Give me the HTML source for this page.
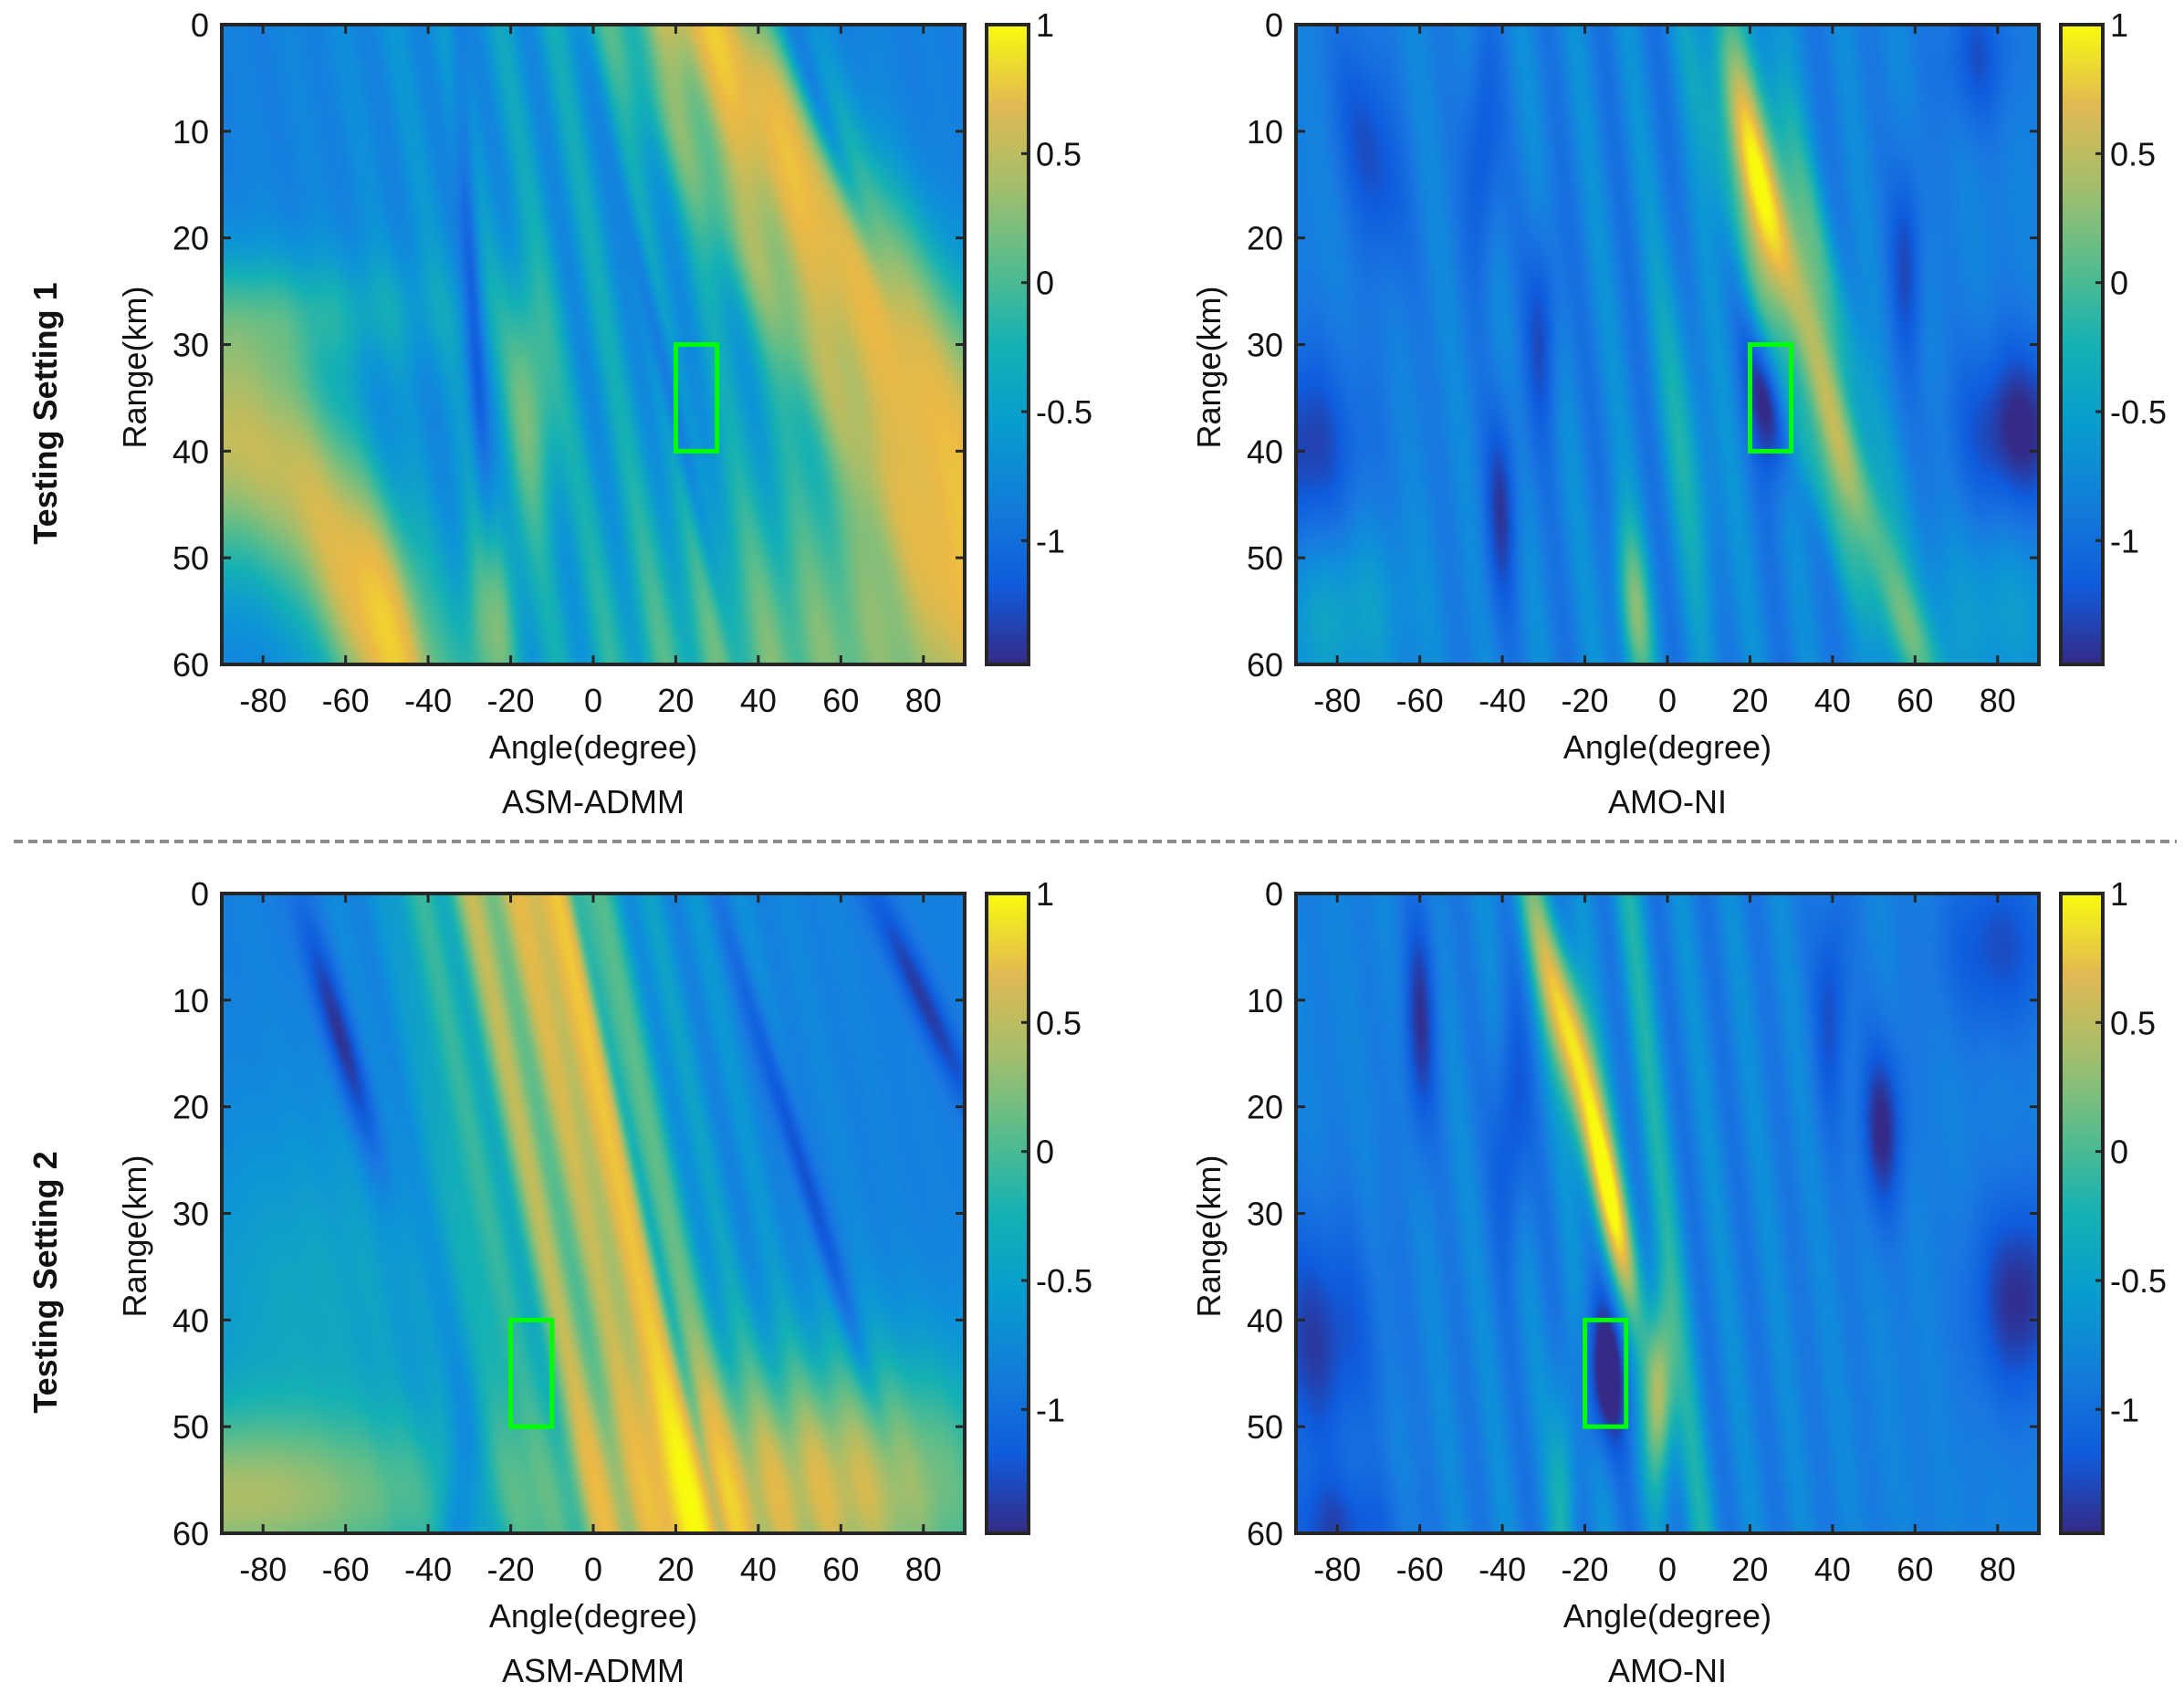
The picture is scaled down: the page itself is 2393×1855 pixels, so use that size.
<!DOCTYPE html>
<html><head><meta charset="utf-8">
<style>
html,body{margin:0;padding:0;background:#fff;}
#wrap{position:relative;width:2393px;height:1855px;overflow:hidden;background:#fff;}
canvas{position:absolute;}
svg{position:absolute;left:0;top:0;}
text{font-family:"Liberation Sans",sans-serif;fill:#111;}
</style></head><body>
<div id="wrap">
<canvas id="c0" width="270" height="234" style="left:243px;top:27px;width:814px;height:701px"></canvas>
<canvas id="c1" width="270" height="234" style="left:1420px;top:27px;width:814px;height:701px"></canvas>
<canvas id="c2" width="270" height="234" style="left:243px;top:979px;width:814px;height:701px"></canvas>
<canvas id="c3" width="270" height="234" style="left:1420px;top:979px;width:814px;height:701px"></canvas>
<svg id="ov" width="2393" height="1855" xmlns="http://www.w3.org/2000/svg">
<defs>
<linearGradient id="parula" x1="0" y1="1" x2="0" y2="0">
<stop offset="0" stop-color="rgb(53,42,135)"/>
<stop offset="0.125" stop-color="rgb(15,92,221)"/>
<stop offset="0.25" stop-color="rgb(18,125,216)"/>
<stop offset="0.375" stop-color="rgb(7,156,207)"/>
<stop offset="0.5" stop-color="rgb(21,177,180)"/>
<stop offset="0.625" stop-color="rgb(89,189,140)"/>
<stop offset="0.75" stop-color="rgb(165,190,107)"/>
<stop offset="0.875" stop-color="rgb(225,185,82)"/>
<stop offset="1" stop-color="rgb(249,251,14)"/>
</linearGradient>
</defs>
<line x1="15" y1="922" x2="2385" y2="922" stroke="#8c8c8c" stroke-width="4" stroke-dasharray="10,6"/>
<text transform="translate(62,453) rotate(-90)" text-anchor="middle" font-size="36" font-weight="bold">Testing Setting 1</text>
<text transform="translate(62,1405) rotate(-90)" text-anchor="middle" font-size="36" font-weight="bold">Testing Setting 2</text>
</svg>
</div>
<script>
const P=[[0,53,42,135],[.125,15,92,221],[.25,25,120,225],[.375,12,150,215],[.5,21,177,180],[.625,89,189,140],[.75,165,190,107],[.875,235,185,70],[1,249,251,14]];
function cmap(v){let t=(v+1.48)/2.48;t=Math.max(0,Math.min(1,t));for(let i=1;i<P.length;i++){if(t<=P[i][0]){const a=P[i-1],b=P[i],f=(t-a[0])/(b[0]-a[0]);return [a[1]+f*(b[1]-a[1]),a[2]+f*(b[2]-a[2]),a[3]+f*(b[3]-a[3])];}}return [249,251,14];}
const G=x=>Math.exp(-x*x/2);
function blob(u,r,cu,cr,su,sr,a,slant){slant=slant||0;return a*G((u-cu-slant*(r-cr))/su)*G((r-cr)/sr);}
function rv(u,c,s,a){return a*G((u-c)/s);}
function soft(v){return v>0.6?0.6+(v-0.6)*0.5:v;}
const F=[
function(u,r){let v=-0.8;
 const wm=G((u-(-5+0.3*r))/38);
 v+=0.22*Math.sin(2*Math.PI*(u-0.45*r)/13)*wm+0.3*wm;
 const c=28+1.5*r, s=11+0.22*r;
 v+=1.45*G((u-c)/s);
 v+=0.35*G((u-(c-24))/6)*G((r-20)/25);
 const r0=39+0.012*(u+90)*(u+90);
 v+=1.3*G((r-r0)/9);
 v+=0.45*G((r-27)/4)*G((u+70)/25);
 v+=blob(u,r,60,60,35,12,0.75);
 v+=blob(u,r,-15,35,4,8,0.8,0.2);
 v+=blob(u,r,-25,57,5,8,0.8);
 v+=blob(u,r,-50,55,10,8,0.4);
 v+=rv(u,-33+0.15*r,1.6,-0.5)*G((r-25)/20);
 v+=rv(u,10+0.6*(r-20),1.6,-0.55)*G((r-35)/14);
 v+=rv(u,48+0.9*r,2.5,-0.7)*G((r-11)/8);
 return soft(v);},
function(u,r){let v=-0.76;
 v+=0.2*Math.sin(2*Math.PI*(u-0.3*r)/13)*G(u/45);
 const c=14+0.55*r+0.004*r*r;
 const amp=1.7*G((r-16)/11)+1.0*G((r-42)/10)+0.5*G((r-58)/5);
 v+=amp*G((u-c)/4.5);
 v+=0.6*G((u-(c-9))/3)*G((r-30)/18);
 v+=0.5*G((u-(c+10))/3)*G((r-20)/15);
 v+=blob(u,r,-8,55,3,6,0.9,0.2);
 v+=blob(u,r,5,40,4,12,0.45,0.3);
 v+=blob(u,r,25,35,3.5,5,-0.9,0.3);
 v+=blob(u,r,-72,12,5,8,-0.55,0.4);
 v+=blob(u,r,-88,40,10,7,-0.6);
 v+=blob(u,r,85,38,10,6,-0.75);
 v+=blob(u,r,-40,45,3,7,-0.55);
 v+=blob(u,r,-45,12,3,8,-0.5);
 v+=blob(u,r,-30,28,3,7,-0.5);
 v+=blob(u,r,58,22,3,7,-0.5);
 v+=blob(u,r,75,3,6,5,-0.45);
 v+=blob(u,r,-80,55,12,6,0.4);
 v+=blob(u,r,80,55,12,6,0.3);
 return v;},
function(u,r){let v=-0.78;
 const wm=G((u-(-10+0.5*r))/32);
 v+=0.22*Math.sin(2*Math.PI*(u-0.55*r)/11)*wm+0.25*wm;
 v+=(1.35-0.004*r)*G((u-(-12+0.6*r))/9);
 v+=0.75*G((u-(-30+0.55*r))/5);
 v+=0.45*G((u-(-44+0.5*r))/4);
 v+=1.1*G((r-57)/6)*G((u+90)/45);
 v+=blob(u,r,60,56,32,9,1.25);
 v+=blob(u,r,-70,38,25,12,0.4);
 v+=rv(u,30+0.8*r,2,-0.6)*G((r-25)/14);
 v+=rv(u,68+1.2*r,3,-0.6)*G((r-10)/9);
 v+=rv(u,-72+0.8*r,3,-0.7)*G((r-14)/9);
 v+=blob(u,r,-32,57,3,6,-0.5);
 v+=rv(u,-5+0.6*r,1.5,-0.4);
 return soft(v);},
function(u,r){let v=-0.76;
 v+=0.2*Math.sin(2*Math.PI*(u-0.3*r)/12)*G((u+10)/40);
 const c=-30+0.55*r;
 v+=1.8*G((u-c)/3)*G((r-27)/9);
 v+=1.0*G((u-c)/3.2)*G((r-12)/6);
 v+=blob(u,r,-2,47,2.5,6,1.2);
 v+=0.8*G((u-(-33+0.5*r))/3)*G((r-5)/10);
 v+=0.4*G((u-(-10+0.3*r))/3);
 v+=blob(u,r,-15,45,4,5,-0.85);
 v+=blob(u,r,52,22,4,6,-0.7);
 v+=blob(u,r,85,38,8,7,-0.7);
 v+=blob(u,r,-85,42,10,8,-0.6);
 v+=blob(u,r,-60,12,3,8,-0.6);
 v+=blob(u,r,-38,22,3,8,-0.55);
 v+=blob(u,r,40,10,3,8,-0.5);
 v+=blob(u,r,80,5,10,6,-0.5);
 v+=blob(u,r,-80,60,10,4,-0.5);
 v+=blob(u,r,-25,55,2.5,8,0.5);
 return v;}
];
for(let k=0;k<4;k++){const cv=document.getElementById('c'+k),ctx=cv.getContext('2d');const W=cv.width,H=cv.height;const im=ctx.createImageData(W,H);
 for(let y=0;y<H;y++)for(let x=0;x<W;x++){const u=-90+180*(x+0.5)/W,r=60*(y+0.5)/H;const c=cmap(F[k](u,r));const i=(y*W+x)*4;im.data[i]=c[0];im.data[i+1]=c[1];im.data[i+2]=c[2];im.data[i+3]=255;}
 ctx.putImageData(im,0,0);}
const ov=document.getElementById('ov');const NS='http://www.w3.org/2000/svg';
function el(t,a,txt){const e=document.createElementNS(NS,t);for(const k in a)e.setAttribute(k,a[k]);if(txt!==undefined)e.textContent=txt;ov.appendChild(e);return e;}
const panels=[[243,27,'ASM-ADMM',[20,30,30,40]],[1420,27,'AMO-NI',[20,30,30,40]],[243,979,'ASM-ADMM',[-20,-10,40,50]],[1420,979,'AMO-NI',[-20,-10,40,50]]];
const W=814,H=701;
for(const [x0,y0,title,box] of panels){
 const X=a=>x0+(a+90)/180*W, Y=r=>y0+r/60*H;
 el('rect',{x:X(box[0]),y:Y(box[2]),width:X(box[1])-X(box[0]),height:Y(box[3])-Y(box[2]),fill:'none',stroke:'#00ff00','stroke-width':5});
 for(let a=-80;a<=80;a+=20){const x=X(a);el('line',{x1:x,y1:y0,x2:x,y2:y0+10,stroke:'#262626','stroke-width':3});el('line',{x1:x,y1:y0+H,x2:x,y2:y0+H-10,stroke:'#262626','stroke-width':3});el('text',{x:x,y:y0+H+52,'text-anchor':'middle','font-size':36},String(a));}
 for(let r=0;r<=60;r+=10){const y=Y(r);el('line',{x1:x0,y1:y,x2:x0+10,y2:y,stroke:'#262626','stroke-width':3});el('line',{x1:x0+W,y1:y,x2:x0+W-10,y2:y,stroke:'#262626','stroke-width':3});el('text',{x:x0-14,y:y+13,'text-anchor':'end','font-size':36},String(r));}
 el('rect',{x:x0,y:y0,width:W,height:H,fill:'none',stroke:'#262626','stroke-width':4});
 el('text',{x:x0+W/2,y:y0+H+103,'text-anchor':'middle','font-size':36},'Angle(degree)');
 el('text',{x:x0+W/2,y:y0+H+163,'text-anchor':'middle','font-size':36},title);
 el('text',{transform:`translate(${x0-83},${y0+H/2+25}) rotate(-90)`,'text-anchor':'middle','font-size':36},'Range(km)');
 const cx=x0+838,cw=46;
 el('rect',{x:cx,y:y0,width:cw,height:H,fill:'url(#parula)',stroke:'#262626','stroke-width':4});
 for(const v of [1,0.5,0,-0.5,-1]){const y=y0+(1-v)/2.48*H;el('line',{x1:cx+cw,y1:y,x2:cx+cw-8,y2:y,stroke:'#262626','stroke-width':3});el('text',{x:cx+cw+8,y:y+13,'font-size':36},String(v));}
}
</script>
</body></html>
